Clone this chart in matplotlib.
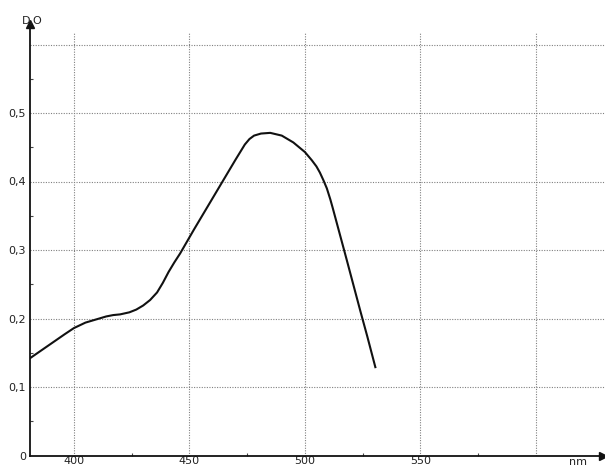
import matplotlib
matplotlib.use("Agg")
import matplotlib.pyplot as plt
from matplotlib.ticker import FixedLocator

# Absorption spectrum (optical density vs. wavelength)
wavelength_nm = [381, 390, 396, 400, 402.5, 405, 410, 414, 417, 420, 424, 427,
                 430, 433, 436, 438.5, 441, 443.5, 446, 452, 458, 464, 470,
                 472, 474, 476, 478, 481, 485, 490, 495, 500, 503, 505, 506.5,
                 508, 509.5, 511, 512, 514, 516, 518, 521, 524, 527, 530.5]
optical_density = [0.142, 0.163, 0.177, 0.186, 0.190, 0.194, 0.199, 0.203,
                   0.205, 0.206, 0.209, 0.213, 0.219, 0.227, 0.238, 0.252,
                   0.268, 0.282, 0.295, 0.330, 0.364, 0.398, 0.432, 0.443,
                   0.454, 0.462, 0.467, 0.470, 0.471, 0.467, 0.457, 0.443,
                   0.431, 0.422, 0.413, 0.402, 0.390, 0.374, 0.362, 0.337,
                   0.312, 0.287, 0.249, 0.211, 0.174, 0.129]

x_major = [400, 450, 500, 550]
x_major_labels = ["400", "450", "500", "550"]
x_grid = [400, 450, 500, 550, 600]
x_minor = [425, 475, 525, 575]
y_major = [0.0, 0.1, 0.2, 0.3, 0.4, 0.5]
y_major_labels = ["0", "0,1", "0,2", "0,3", "0,4", "0,5"]
y_grid = [0.1, 0.2, 0.3, 0.4, 0.5, 0.6]
y_minor = [0.05, 0.15, 0.25, 0.35, 0.45, 0.55]

W, H = 605, 468
fig = plt.figure(figsize=(W / 100, H / 100), dpi=100)
ax = fig.add_axes([30 / W, 12.5 / H, 570 / W, 431.5 / H])

x_lo, x_hi = 381, 381 + 570 / 2.31
y_lo, y_hi = 0.0, 431.5 / 685
ax.set_xlim(x_lo, x_hi)
ax.set_ylim(y_lo, y_hi)

grid_kw = dict(colors="#808080", linestyles=(0, (1, 1.3)), linewidths=0.8, zorder=1)
ax.hlines(y_grid, x_lo, x_hi + 2, clip_on=False, **grid_kw)
ax.vlines(x_grid, 0, 0.618, **grid_kw)

ax.plot(wavelength_nm, optical_density, color="#111111", lw=1.5,
        solid_joinstyle="round", zorder=3)

for side in ("top", "right"):
    ax.spines[side].set_visible(False)
for side in ("left", "bottom"):
    ax.spines[side].set_color("#111111")
    ax.spines[side].set_linewidth(1.3)

# Arrow heads on the axes
ax.plot(0, 1, marker="^", color="#111111", ms=6, transform=ax.transAxes,
        clip_on=False, zorder=4)
ax.plot(1.005, 0, marker=">", color="#111111", ms=6, transform=ax.transAxes,
        clip_on=False, zorder=4)

ax.set_xticks(x_major)
ax.set_xticklabels(x_major_labels)
ax.set_yticks(y_major)
ax.set_yticklabels(y_major_labels)
ax.xaxis.set_minor_locator(FixedLocator(x_minor))
ax.yaxis.set_minor_locator(FixedLocator(y_minor))
ax.tick_params(axis="both", which="major", length=0, labelsize=8,
               labelcolor="#222222")
ax.tick_params(axis="x", which="major", pad=0.5)
ax.tick_params(axis="y", which="major", pad=3)
ax.tick_params(axis="both", which="minor", direction="in", length=2.5,
               width=0.8, color="#444444")

fig.text(32 / W, 1 - 21 / H, "D,O", fontsize=8, color="#222222",
         ha="center", va="center")
fig.text(578 / W, 1 - 462 / H, "nm", fontsize=8, color="#222222",
         ha="center", va="center")

fig.savefig("out.png", dpi=100)
